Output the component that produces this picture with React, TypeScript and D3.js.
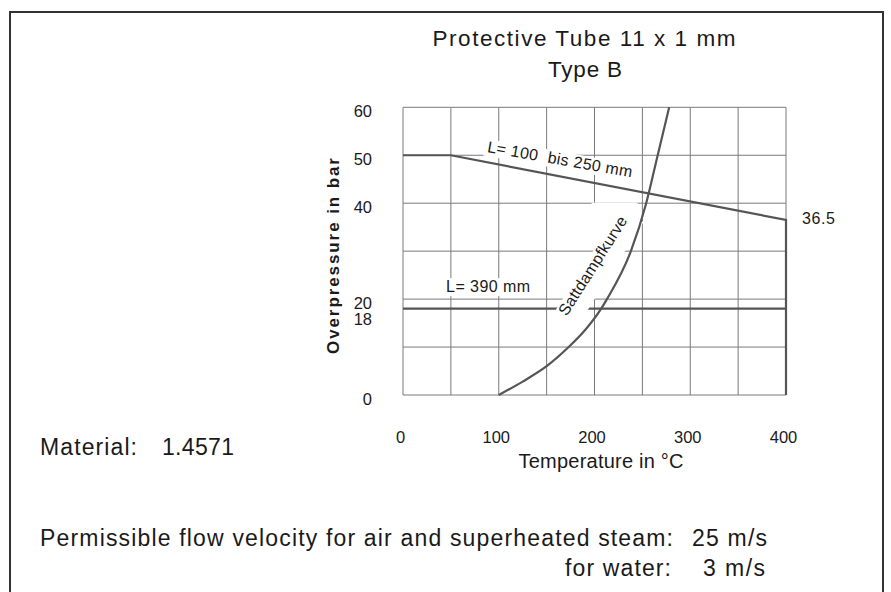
import * as d3 from "d3";

// saturated steam curve (temperature °C, overpressure bar)
const steamTemp = [100, 125, 150, 173, 190, 207, 213, 238, 254, 266, 278];
const steamPress = [0, 2.8, 6, 10, 13.5, 18, 20, 30, 40, 50, 60];

// limit for L = 100 .. 250 mm
const shortTemp = [0, 50, 400, 400];
const shortPress = [50, 50, 36.5, 0];

// limit for L = 390 mm
const longTemp = [0, 400];
const longPress = [18, 18];

const xTickValues = [0, 100, 200, 300, 400];
const yTickValues = [0, 18, 20, 40, 50, 60];
const endValue = 36.5;

const W = 891;
const H = 592;
const FONT = "'Liberation Sans', Arial, sans-serif";
const GRID = "#7a7a7a";
const INK = "#555";
const TEXT = "#1a1a1a";

export default function App() {
  const x = d3.scaleLinear().domain([0, 400]).range([403, 786]);
  const y = d3.scaleLinear().domain([0, 60]).range([395, 107.3]);

  const line = d3
    .line<[number, number]>()
    .x(d => x(d[0]))
    .y(d => y(d[1]));

  const steamPath = d3
    .line<[number, number]>()
    .x(d => x(d[0]))
    .y(d => y(d[1]))
    .curve(d3.curveMonotoneX)(steamTemp.map((t, i) => [t, steamPress[i]]));
  const shortPath = line(shortTemp.map((t, i) => [t, shortPress[i]]));
  const longPath = line(longTemp.map((t, i) => [t, longPress[i]]));

  // sloped part of the short limit, used to place its label
  const slope = d3.scaleLinear().domain([shortTemp[1], shortTemp[2]]).range([shortPress[1], shortPress[2]]);
  const slopeAngle =
    (Math.atan2(y(shortPress[2]) - y(shortPress[1]), x(shortTemp[2]) - x(shortTemp[1])) * 180) / Math.PI;

  const shortLblX = x(87.4);
  const shortLblY = y(slope(87.4)) - 10.2;
  const steamLblX = x(171);
  const steamLblY = y(16.3);
  const longLblX = x(45);
  const longLblY = y(longPress[0]) - 16.6;

  return (
    <svg width={W} height={H} style={{ position: "absolute", left: 0, top: 0, background: "#fff" }}>
      <rect x={10} y={12} width={873} height={620} fill="none" stroke="#333" strokeWidth={2} />

      {/* grid */}
      <g stroke={GRID} strokeWidth={1}>
        {x.ticks(8).map(t => (
          <line key={"gx" + t} x1={x(t)} x2={x(t)} y1={y(0)} y2={y(60)} />
        ))}
        {y.ticks(6).map(t => (
          <line key={"gy" + t} x1={x(0)} x2={x(400)} y1={y(t)} y2={y(t)} />
        ))}
      </g>

      {/* limit lines */}
      <path d={shortPath ?? ""} fill="none" stroke={INK} strokeWidth={2.2} />
      <path d={longPath ?? ""} fill="none" stroke={INK} strokeWidth={2.2} />

      {/* white boxes behind the labels */}
      <g fill="#fff">
        <rect transform={`translate(${shortLblX},${shortLblY}) rotate(${slopeAngle - 1})`} x={-3} y={-13} width={153} height={17} />
        <rect x={longLblX - 3} y={longLblY - 14} width={90} height={18} />
        <rect transform={`translate(${steamLblX},${steamLblY}) rotate(-57.6)`} x={-3} y={-13} width={124} height={27} />
        <rect x={x(197)} y={y(40) - 0.6} width={x(245) - x(197)} height={y(30.5) - y(40) + 0.6} />
      </g>

      {/* saturated steam curve */}
      <path d={steamPath ?? ""} fill="none" stroke={INK} strokeWidth={2.2} />

      <g fontFamily={FONT} fill={TEXT}>
        {/* titles */}
        <text x={584} y={46} fontSize={22.5} textAnchor="middle" textLength={303} lengthAdjust="spacing">
          Protective Tube 11 x 1 mm
        </text>
        <text x={585} y={77} fontSize={22.5} textAnchor="middle" textLength={74} lengthAdjust="spacing">
          Type B
        </text>

        {/* y ticks */}
        {yTickValues.map(v => (
          <text key={"yt" + v} x={372} y={y(v) + (v === 18 ? 16.5 : 9.5)} fontSize={16.5} textAnchor="end">
            {v}
          </text>
        ))}
        {/* x ticks */}
        {xTickValues.map(v => (
          <text key={"xt" + v} x={x(v) - 2.5} y={443} fontSize={16.5} textAnchor="middle">
            {v}
          </text>
        ))}

        <text x={601} y={468} fontSize={20} textAnchor="middle" textLength={165} lengthAdjust="spacing">
          Temperature in °C
        </text>
        <text
          transform={`translate(339,256) rotate(-90)`}
          fontSize={17}
          fontWeight="bold"
          textAnchor="middle"
          textLength={196}
          lengthAdjust="spacing"
        >
          Overpressure in bar
        </text>

        {/* curve labels */}
        <text
          transform={`translate(${shortLblX},${shortLblY}) rotate(${slopeAngle - 1})`}
          fontSize={16}
          textLength={147}
          lengthAdjust="spacing"
          style={{ whiteSpace: "pre" }}
        >
          L= 100  bis 250 mm
        </text>
        <text x={longLblX} y={longLblY} fontSize={16} textLength={84} lengthAdjust="spacing">
          L= 390 mm
        </text>
        <text
          transform={`translate(${steamLblX},${steamLblY}) rotate(-57.6)`}
          fontSize={16}
          textLength={114}
          lengthAdjust="spacing"
        >
          Sattdampfkurve
        </text>
        <text x={x(400) + 16} y={y(endValue) + 4.5} fontSize={16} textLength={33} lengthAdjust="spacing">
          {endValue}
        </text>

        {/* notes */}
        <text x={40} y={455} fontSize={23} textLength={97} lengthAdjust="spacing">
          Material:
        </text>
        <text x={162} y={455} fontSize={23} textLength={72} lengthAdjust="spacing">
          1.4571
        </text>
        <text x={40} y={546} fontSize={23} textLength={633} lengthAdjust="spacing">
          Permissible flow velocity for air and superheated steam:
        </text>
        <text x={692} y={546} fontSize={23} textLength={75} lengthAdjust="spacing">
          25 m/s
        </text>
        <text x={565} y={576} fontSize={23} textLength={106} lengthAdjust="spacing">
          for water:
        </text>
        <text x={703} y={576} fontSize={23} textLength={62} lengthAdjust="spacing">
          3 m/s
        </text>
      </g>
    </svg>
  );
}
